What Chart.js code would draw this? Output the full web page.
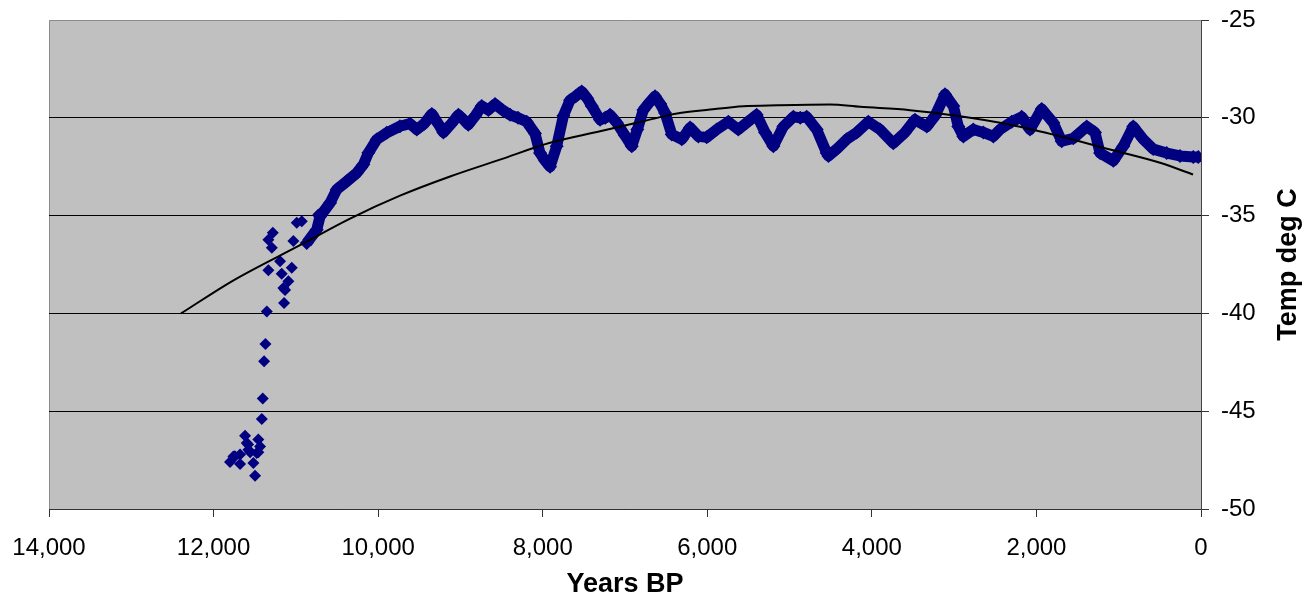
<!DOCTYPE html>
<html lang="en">
<head>
    <meta charset="UTF-8">
    <title>Temp deg C vs Years BP</title>
    <script src="https://cdn.jsdelivr.net/npm/chart.js"></script>
    <style>
        body { margin: 0; background: #fff; }
        #box { width: 1313px; height: 598px; }
    </style>
</head>
<body>
<div id="box"><canvas id="tempChart" width="1313" height="598"></canvas></div>
<script>
    // isolated points at the start of the record (years BP, deg C)
    const earlyYears = [11800, 11759, 11740, 11678, 11678, 11617, 11597, 11580, 11577, 11556, 11516, 11496, 11475, 11456, 11456, 11435,
                        11414, 11402, 11386, 11370, 11353, 11334, 11334, 11292, 11280, 11192, 11172, 11152, 11143, 11131,
                        11091, 11050, 11030, 10989, 10928, 10848, 10726];
    const earlyTemps = [-47.6, -47.31, -47.3, -47.7, -47.22, -46.25, -46.63, -46.7, -46.97, -47.1, -47.65, -48.3, -47.14, -46.45, -47.1, -46.8,
                        -45.4, -44.35, -42.45, -41.56, -39.9, -37.8, -36.23, -36.65, -35.88, -37.34, -37.97, -38.7, -39.47, -38.8,
                        -38.35, -37.67, -36.3, -35.37, -35.29, -36.3, -34.95];

    // dense part of the record
    const coreYears = [10868, 10746, 10706, 10584, 10503, 10381, 10260, 10180, 10119, 10017, 9896, 9735, 9613, 9530, 9440, 9348, 9270, 9207,
                       9110, 9025, 8960, 8904, 8820, 8741, 8660, 8580, 8490, 8397, 8300, 8195, 8094, 8033, 7970, 7911, 7830, 7749,
                       7668, 7600, 7526, 7460, 7404, 7303, 7240, 7182, 7100, 7000, 6918, 6850, 6777, 6700, 6635, 6570, 6513, 6432,
                       6310, 6209, 6108, 6007, 5885, 5744, 5623, 5521, 5400, 5298, 5197, 5076, 4954, 4870, 4792, 4670, 4549, 4528,
                       4427, 4305, 4184, 4043, 3901, 3739, 3597, 3476, 3333, 3232, 3111, 3010, 2949, 2888, 2767, 2645, 2524, 2443,
                       2300, 2179, 2078, 1936, 1795, 1693, 1552, 1389, 1288, 1227, 1066, 944, 823, 701, 580, 417, 255, 94, 33];
    const coreTemps = [-36.4, -35.72, -35.04, -34.35, -33.67, -33.25, -32.82, -32.39, -31.79, -31.11, -30.77, -30.43, -30.3, -30.6, -30.3, -29.8, -30.3, -30.75,
                       -30.3, -29.85, -30.1, -30.35, -29.9, -29.4, -29.6, -29.3, -29.6, -29.85, -30.0, -30.2, -30.8, -31.8, -32.2, -32.5, -31.45, -29.9,
                       -29.1, -28.9, -28.65, -29.0, -29.4, -30.1, -30.0, -29.85, -30.25, -30.9, -31.45, -30.6, -29.6, -29.2, -28.9, -29.3, -29.75, -30.85,
                       -31.1, -30.5, -30.95, -31.0, -30.6, -30.2, -30.6, -30.25, -29.85, -30.75, -31.45, -30.45, -29.95, -30.0, -29.95, -30.6, -31.8, -31.95,
                       -31.6, -31.1, -30.75, -30.2, -30.6, -31.3, -30.75, -30.1, -30.45, -29.9, -28.8, -29.4, -30.45, -30.95, -30.6, -30.75, -30.95, -30.6,
                       -30.2, -29.95, -30.6, -29.55, -30.25, -31.2, -31.05, -30.45, -30.75, -31.8, -32.2, -31.45, -30.45, -31.1, -31.6, -31.8, -31.95, -32.0, -32.0];

    // polynomial trend line
    const trendYears = [12395, 11763, 10949, 10341, 9734, 9126, 8519, 7911, 7303, 6781, 6368, 5967,
                        5562, 5149, 4508, 4144, 3536, 2929, 2321, 1713, 1106, 498, 97];
    const trendTemps = [-40.0, -38.32, -36.51, -35.15, -33.98, -33.0, -32.14, -31.28, -30.69, -30.18, -29.78, -29.58,
                        -29.41, -29.36, -29.32, -29.44, -29.61, -29.92, -30.35, -30.94, -31.62, -32.3, -32.9];

    const xTicks = [14000, 12000, 10000, 8000, 6000, 4000, 2000, 0];
    const yTicks = [-25, -30, -35, -40, -45, -50];

    const FONT = 'Liberation Sans, Arial, sans-serif';
    const NAVY = '#000080';

    const toXY = (xs, ys) => xs.map((x, i) => ({x: x, y: ys[i]}));

    const plotBg = {
        id: 'plotBg',
        beforeDraw(chart) {
            const {ctx, chartArea: a} = chart;
            ctx.save();
            ctx.fillStyle = '#c0c0c0';
            ctx.fillRect(a.left, a.top, a.right - a.left, a.bottom - a.top);
            ctx.strokeStyle = '#8c8c8c';
            ctx.lineWidth = 1;
            ctx.beginPath();
            ctx.moveTo(a.left + 0.5, a.bottom);
            ctx.lineTo(a.left + 0.5, a.top + 0.5);
            ctx.lineTo(a.right, a.top + 0.5);
            ctx.stroke();
            ctx.restore();
        }
    };

    const yTitle = {
        id: 'yTitle',
        afterDraw(chart) {
            const {ctx, chartArea: a} = chart;
            ctx.save();
            ctx.translate(1296, (a.top + a.bottom) / 2);
            ctx.rotate(-Math.PI / 2);
            ctx.font = 'bold 27px ' + FONT;
            ctx.fillStyle = '#000';
            ctx.textAlign = 'center';
            ctx.textBaseline = 'alphabetic';
            ctx.fillText('Temp deg C', 0, 0);
            ctx.restore();
        }
    };

    const noPad = s => { s.paddingLeft = 0; s.paddingRight = 0; s.paddingTop = 0; s.paddingBottom = 0; };

    const ctx = document.getElementById('tempChart').getContext('2d');
    const tempChart = new Chart(ctx, {
        type: 'scatter',
        data: {
            datasets: [
                {
                    label: 'Trend',
                    data: toXY(trendYears, trendTemps),
                    showLine: true,
                    borderColor: '#000',
                    borderWidth: 2,
                    pointRadius: 0,
                    cubicInterpolationMode: 'monotone'
                },
                {
                    label: 'Temp',
                    data: toXY(coreYears, coreTemps),
                    showLine: true,
                    borderColor: NAVY,
                    borderWidth: 11,
                    borderJoinStyle: 'round',
                    pointStyle: 'rectRot',
                    pointRadius: 7,
                    pointBorderWidth: 0,
                    pointBackgroundColor: NAVY
                },
                {
                    label: 'Temp early',
                    data: toXY(earlyYears, earlyTemps),
                    pointStyle: 'rectRot',
                    pointRadius: 6,
                    pointBorderWidth: 0,
                    pointBackgroundColor: NAVY
                }
            ]
        },
        options: {
            responsive: false,
            animation: false,
            events: [],
            layout: { padding: { left: 49, top: 20, right: 0, bottom: 0 } },
            plugins: {
                legend: { display: false },
                tooltip: { enabled: false }
            },
            scales: {
                x: {
                    type: 'linear',
                    reverse: true,
                    min: 0,
                    max: 14000,
                    afterBuildTicks: s => { s.ticks = xTicks.map(v => ({value: v})); },
                    afterFit: s => { s.height = 89; noPad(s); },
                    grid: { drawOnChartArea: false, color: '#333', tickLength: 8 },
                    border: { color: '#333', width: 1 },
                    ticks: {
                        color: '#000',
                        padding: 17,
                        font: { family: FONT, size: 24 },
                        callback: v => v.toLocaleString('en-US')
                    },
                    title: {
                        display: true,
                        text: 'Years BP',
                        color: '#000',
                        padding: 0,
                        font: { family: FONT, size: 27, weight: 'bold', lineHeight: 1 }
                    }
                },
                y: {
                    type: 'linear',
                    position: 'right',
                    min: -50,
                    max: -25,
                    afterBuildTicks: s => { s.ticks = yTicks.map(v => ({value: v})); },
                    afterFit: s => { s.width = 112; noPad(s); },
                    grid: {
                        color: c => (c.tick && c.tick.value === -25) ? 'rgba(0,0,0,0)' : '#000',
                        tickColor: '#333',
                        tickLength: 8
                    },
                    border: { color: '#444', width: 1 },
                    ticks: {
                        color: '#000',
                        padding: 12,
                        font: { family: FONT, size: 24 }
                    }
                }
            }
        },
        plugins: [plotBg, yTitle]
    });
</script>
</body>
</html>
